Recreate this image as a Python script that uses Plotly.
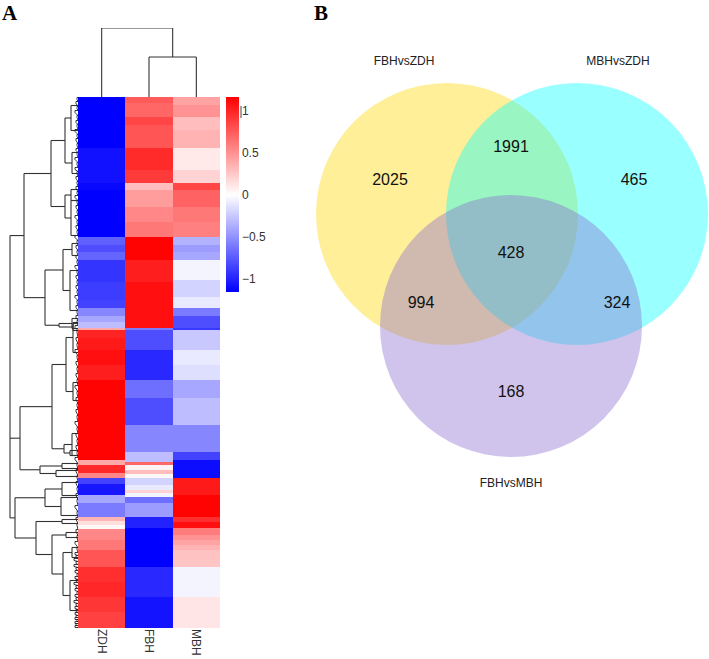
import numpy as np
import plotly.graph_objects as go

W, H = 709, 659
columns = ["ZDH", "FBH", "MBH"]

# Heatmap: row-count of each band and its z-score, per column
zdh_rows = [51,35,7,47,8,7,8,22,18,8,8,6,6,2,8,12,15,15,80,5,8,5,6,11,8,14,4,4,4,11,10,17,15,15,15,16]
zdh_vals = [-1.16,-1.08,-1.12,-1.16,-.72,-.8,-.7,-.92,-.88,-.85,-.55,-.4,-.3,.4,1.0,1.05,1.1,1.03,1.16,.4,.98,.55,-.85,-1.05,-.4,-.6,.35,.15,.03,.55,.62,.78,.95,.99,.92,.87]
fbh_rows = [6,14,8,23,22,13,7,17,15,15,23,22,46,2,20,30,18,27,27,10,3,5,4,4,7,5,3,4,6,14,11,39,30,31]
fbh_vals = [.75,.7,.85,.78,.97,.9,.3,.45,.55,.62,1.16,1.03,1.1,-.6,-.8,-.97,-.65,-.8,-.55,-.3,.7,.05,.3,.03,-.2,-.1,.2,-.05,-.65,-.45,-1.0,-1.16,-.97,-1.07]
mbh_rows = [8,12,13,18,22,13,7,17,15,15,8,7,8,20,17,11,8,12,2,20,15,15,18,27,27,8,18,17,22,5,6,7,5,5,5,10,7,30,31]
mbh_vals = [.42,.5,.3,.35,.1,.2,.85,.72,.62,.58,-.35,-.45,-.4,-.05,-.2,-.1,-.6,-.8,-.9,-.25,-.1,-.15,-.4,-.3,-.55,-.85,-1.1,1.05,1.16,.95,1.1,.6,.5,.42,.35,.28,.27,-.05,.12]
cbar_ticks = [1, 0.5, 0, -0.5, -1]
cbar_labels = ["1", "0.5", "0", "\u22120.5", "\u22121"]

# Row dendrogram: (height, child, child, ...); a leaf child is a row number
row_tree = (68,
  (54,
    (27,
      (13, (7, 8, 33), (6, 55, 76)),
      (13, (7, 92, 103), (7, 103, 138))),
    (33,
      (15, (6, 146, 158), (8, 173, 213)),
      (19, (6, 221, 231), (5, 226, 233)))),
  (58,
    (26, (12, (5, 225, 255), (5, 285, 303)), (14, (6, 336, 358), (8, 353, 358))),
    (38, (16, 366, 371), (22, 373, 379))),
  (63,
    (33, (16, 385, 398), (17, 400, 418)),
    (42, (16, 422, 426),
      (26, (12, 435, 440), (15, (6, 450, 460), (8, 483, 513))))))
col_tree = (69, 0, (40, 1, 2))

# Scalloped fringe of the row tree next to the heatmap
fringe_rows = [0,4,9,13,18,23,27,32,37,41,46,51,55,60,65,70,74,79,84,89,94,98,103,108,113,118,123,128,133,138,143,148,153,158,163,168,173,178,183,188,193,198,203,208,213,218,223,228,233,
 240,246,252,258,264,270,276,282,288,294,300,306,312,318,324,330,336,342,348,354,360,366,372,378,384,390,396,402,408,414,420,426,432,438,444,450,455,458,461,464,467,470,473,476,479,482,485,488,491,494,497,500,503,506,509,512,515,518,520,522,524,526,528,530]
fringe_depth = [1,2,1,3,1,2,1,3,1,2,1,2,1,3,1,3,1,2,1,2,1,3,1,2,1,3,1,2,1,3,1,2,1,2,1,3,1,2,1,2,1,3,1,2,1,2,1,3,1,
 2,1,3,1,2,1,2,1,3,1,2,1,2,1,3,1,2,1,2,1,3,1,2,1,2,1,2,1,3,1,2,1,2,1,3,1,3,2,4,2,4,2,3,1,3,2,4,2,3,1,3,2,4,2,3,2,3,2,3,1,3,2,3,1]

# Venn diagram
venn_cx = [447, 577, 511]
venn_cy = [214, 214, 326]
venn_r = 131
venn_colors = ["rgba(255,215,0,0.4)", "rgba(0,255,255,0.4)", "rgba(137,107,207,0.4)"]
venn_counts = ["2025", "1991", "465", "428", "994", "324", "168"]
count_x = [390, 511, 634, 511, 421, 617, 511]
count_y = [181, 148, 181, 254, 304, 304, 393]
venn_names = ["FBHvsZDH", "MBHvsZDH", "FBHvsMBH"]
name_x = [404, 618, 511]
name_y = [62, 62, 484]


def expand(rows, vals):
    return np.repeat(vals, rows)


def walk(node, xs, ys):
    """Add a dendrogram node's brackets to xs/ys; return (position, height)."""
    if not isinstance(node, tuple):
        return node, 0
    kids = [walk(k, xs, ys) for k in node[1:]]
    h = node[0]
    pos = [p for p, _ in kids]
    for p, kh in kids:
        xs += [kh, h, None]
        ys += [p, p, None]
    xs += [h, h, None]
    ys += [min(pos), max(pos), None]
    return (min(pos) + max(pos)) / 2, h


z = np.column_stack([expand(zdh_rows, zdh_vals), expand(fbh_rows, fbh_vals), expand(mbh_rows, mbh_vals)])
zmin, zmax = -1.155, 1.167
mid = -zmin / (zmax - zmin)

fig = go.Figure()
fig.add_trace(go.Heatmap(
    z=z, x=[0, 1, 2], y=np.arange(z.shape[0]), zmin=zmin, zmax=zmax,
    colorscale=[[0, "#0000ff"], [mid, "#ffffff"], [1, "#ff0000"]],
    hoverinfo="skip",
    colorbar=dict(x=226/W, xanchor="left", y=1-97/H, yanchor="top", len=195/H, lenmode="fraction",
                  thickness=13, thicknessmode="pixels", xpad=0, ypad=0, outlinewidth=0,
                  tickvals=cbar_ticks, ticktext=cbar_labels, ticks="",
                  tickfont=dict(family="Liberation Sans", size=12, color="#333333")),
))

rx, ry = [], []
walk(row_tree, rx, ry)
fx, fy = [], []
for r, d in zip(fringe_rows, fringe_depth):
    fx += [0, d, d]
    fy += [r, r, r + 2]
fig.add_trace(go.Scatter(x=rx, y=ry, xaxis="x2", yaxis="y", mode="lines", hoverinfo="skip",
                         line=dict(color="#333333", width=1.1), showlegend=False))
fig.add_trace(go.Scatter(x=fx, y=fy, xaxis="x2", yaxis="y", mode="lines", hoverinfo="skip",
                         line=dict(color="#222222", width=0.9), showlegend=False))
# column tree: positions are column indices, heights on their own axis
cx, cy = [], []
walk(col_tree, cy, cx)
fig.add_trace(go.Scatter(x=cx, y=cy, xaxis="x", yaxis="y2", mode="lines", hoverinfo="skip",
                         line=dict(color="#333333", width=1.1), showlegend=False))

# Venn layer
fig.add_trace(go.Scatter(x=count_x, y=count_y, text=venn_counts, mode="text", xaxis="x3", yaxis="y3",
                         textfont=dict(family="Liberation Sans", size=16, color="#111111"),
                         hoverinfo="skip", showlegend=False))
fig.add_trace(go.Scatter(x=name_x, y=name_y, text=venn_names, mode="text", xaxis="x3", yaxis="y3",
                         textfont=dict(family="Liberation Sans", size=12, color="#222222"),
                         hoverinfo="skip", showlegend=False))

shapes = [dict(type="circle", xref="x3", yref="y3", layer="below", line=dict(width=0), fillcolor=c,
               x0=x-venn_r, x1=x+venn_r, y0=y-venn_r, y1=y+venn_r)
          for x, y, c in zip(venn_cx, venn_cy, venn_colors)]
# small dark mark beside the top colour-bar tick
shapes.append(dict(type="line", xref="paper", yref="paper", x0=241/W, x1=241/W, y0=1-106/H, y1=1-118/H,
                   line=dict(color="#444444", width=1)))

letter = dict(family="Liberation Serif", size=21, color="#000000")
fig.update_layout(
    width=W, height=H, margin=dict(l=0, r=0, t=0, b=0), paper_bgcolor="white", plot_bgcolor="rgba(0,0,0,0)",
    showlegend=False, shapes=shapes,
    xaxis=dict(domain=[78/W, 220/W], range=[-0.5, 2.5], tickvals=[0, 1, 2], ticktext=columns, tickangle=90,
               showgrid=False, zeroline=False, ticks="", showline=False, anchor="y",
               tickfont=dict(family="Liberation Sans", size=12, color="#333333")),
    yaxis=dict(domain=[1-628/H, 1-97/H], range=[530.5, -0.5], visible=False, showgrid=False, zeroline=False),
    xaxis2=dict(domain=[0, 78/W], range=[78, 0], visible=False, anchor="y"),
    yaxis2=dict(domain=[1-97/H, 1-28/H], range=[0, 69], visible=False, anchor="x"),
    xaxis3=dict(domain=[0, 1], range=[0, W], visible=False, anchor="y3"),
    yaxis3=dict(domain=[0, 1], range=[H, 0], visible=False, anchor="x3"),
    annotations=[
        dict(text="<b>A</b>", xref="x3", yref="y3", x=10, y=13, showarrow=False, font=letter),
        dict(text="<b>B</b>", xref="x3", yref="y3", x=321, y=13, showarrow=False, font=letter),
    ],
)

fig.write_html("out.html", config={"displayModeBar": False},
               post_script="document.body.style.margin='0';document.body.style.overflow='hidden';")
